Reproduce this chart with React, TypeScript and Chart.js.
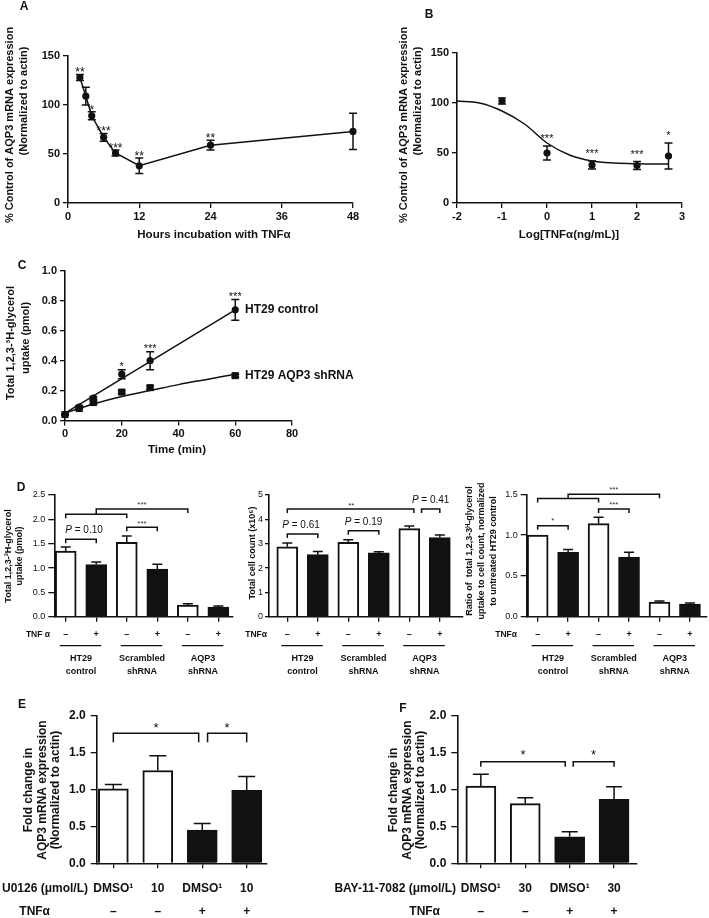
import React, { useEffect, useRef } from "react";
import { Chart, registerables } from "chart.js";
Chart.register(...registerables);

const W = 709;
const H = 918;
const FF = "'Liberation Sans', Arial, Helvetica, sans-serif";
const INK = "#111";
const YW = 34;
const XH = 24;

// ---------- Panel A ----------
const A_HOURS = [2, 3, 4, 6, 8, 12, 24, 48];
const A_VALUES = [128, 109, 89, 67, 51, 38, 59, 73];
const A_ERR = [3, 9, 4, 4, 3, 8, 5, 18.5];
const A_STARS = ["**", "", "*", "***", "***", "**", "**", ""];
const A_X_TICKS = [0, 12, 24, 36, 48];
const A_Y_TICKS = [0, 50, 100, 150];

// ---------- Panel B ----------
const B_LOGDOSE = [-1, 0, 1, 2, 2.7];
const B_VALUES = [102, 50, 38, 37.5, 47];
const B_ERR = [3, 7, 4, 4, 13];
const B_STARS = ["", "***", "***", "***", "*"];
const B_FIT_X = [-2, -1.5, -1, -0.5, 0, 0.5, 1, 1.5, 2, 2.7];
const B_FIT_Y = [102, 100, 92, 79, 60, 48, 42, 40, 39.3, 39];
const B_X_TICKS = [-2, -1, 0, 1, 2, 3];
const B_Y_TICKS = [0, 50, 100, 150];

// ---------- Panel C ----------
const C_TIME = [0, 5, 10, 20, 30, 60];
const C_CTRL = [0.04, 0.09, 0.15, 0.31, 0.4, 0.74];
const C_CTRL_ERR = [0.005, 0.01, 0.01, 0.03, 0.06, 0.07];
const C_SH = [0.04, 0.08, 0.12, 0.19, 0.22, 0.3];
const C_SH_ERR = [0, 0, 0.01, 0.01, 0.01, 0.01];
const C_STARS = ["", "", "", "*", "***", "***"];
const C_CTRL_FIT_X = [0, 60];
const C_CTRL_FIT_Y = [0.05, 0.74];
const C_SH_FIT_X = [0, 10, 20, 30, 40, 50, 60];
const C_SH_FIT_Y = [0.05, 0.11, 0.16, 0.2, 0.24, 0.275, 0.31];
const C_X_TICKS = [0, 20, 40, 60, 80];
const C_Y_TICKS = [0, 0.2, 0.4, 0.6, 0.8, 1.0];

// ---------- Panel D ----------
const D_TNF = ["–", "+", "–", "+", "–", "+"];
const D_GROUPS = [
  ["HT29", "control"],
  ["Scrambled", "shRNA"],
  ["AQP3", "shRNA"],
];
const D1_VALUES = [1.35, 1.07, 1.53, 0.98, 0.24, 0.2];
const D1_ERR = [0.08, 0.055, 0.13, 0.1, 0.025, 0.02];
const D1_Y_TICKS = [0, 0.5, 1.0, 1.5, 2.0, 2.5];
const D2_VALUES = [2.87, 2.55, 3.06, 2.62, 3.62, 3.25];
const D2_ERR = [0.16, 0.13, 0.1, 0.05, 0.11, 0.11];
const D2_Y_TICKS = [0, 1, 2, 3, 4, 5];
const D3_VALUES = [1.0, 0.79, 1.14, 0.73, 0.18, 0.155];
const D3_ERR = [0, 0.035, 0.08, 0.06, 0.012, 0.012];
const D3_Y_TICKS = [0, 0.5, 1.0, 1.5];

// ---------- Panels E / F ----------
const E_LABELS = ["DMSO¹", "10", "DMSO¹", "10"];
const E_TNF = ["–", "–", "+", "+"];
const E_VALUES = [1.01, 1.26, 0.45, 0.99];
const E_ERR = [0.06, 0.2, 0.09, 0.19];
const F_LABELS = ["DMSO¹", "30", "DMSO¹", "30"];
const F_TNF = ["–", "–", "+", "+"];
const F_VALUES = [1.05, 0.81, 0.36, 0.87];
const F_ERR = [0.16, 0.08, 0.07, 0.17];
const EF_Y_TICKS = [0, 0.5, 1.0, 1.5, 2.0];

// ---------- styles ----------
const D_FILLS = ["#ffffff", INK, "#ffffff", INK, "#ffffff", INK];
const EF_FILLS = ["#ffffff", "#ffffff", INK, INK];

const bold = (s: number) => ({ family: FF, size: s, weight: "bold" as const });
const norm = (s: number) => ({ family: FF, size: s, weight: "normal" as const });

function txt(ctx: CanvasRenderingContext2D, s: string, x: number, y: number, size: number, o: any = {}) {
  ctx.save();
  ctx.font = `${o.italic ? "italic " : ""}${o.bold === false ? "" : "bold "}${size}px ${FF}`;
  ctx.fillStyle = o.color || INK;
  ctx.textAlign = o.align || "center";
  ctx.textBaseline = o.baseline || "middle";
  if (o.rot) {
    ctx.translate(x, y);
    ctx.rotate(-Math.PI / 2);
    ctx.fillText(s, 0, 0);
  } else {
    ctx.fillText(s, x, y);
  }
  ctx.restore();
}

function star(ctx: CanvasRenderingContext2D, s: string, x: number, yc: number, size: number, color = INK) {
  ctx.save();
  ctx.font = `${size}px ${FF}`;
  ctx.fillStyle = color;
  ctx.textAlign = "center";
  ctx.textBaseline = "alphabetic";
  ctx.fillText(s, x, yc + size * 0.57);
  ctx.restore();
}

function pText(ctx: CanvasRenderingContext2D, rest: string, cx: number, y: number, size: number) {
  ctx.save();
  const fI = `italic ${size}px ${FF}`;
  const fN = `${size}px ${FF}`;
  ctx.font = fI;
  const w1 = ctx.measureText("P").width;
  ctx.font = fN;
  const w2 = ctx.measureText(rest).width;
  const x = cx - (w1 + w2) / 2;
  ctx.textBaseline = "middle";
  ctx.textAlign = "left";
  ctx.fillStyle = INK;
  ctx.font = fI;
  ctx.fillText("P", x, y);
  ctx.font = fN;
  ctx.fillText(rest, x + w1, y);
  ctx.restore();
}

function seg(ctx: CanvasRenderingContext2D, pts: number[][], lw = 1.5) {
  ctx.save();
  ctx.strokeStyle = INK;
  ctx.lineWidth = lw;
  ctx.beginPath();
  pts.forEach((p, i) => (i ? ctx.lineTo(p[0], p[1]) : ctx.moveTo(p[0], p[1])));
  ctx.stroke();
  ctx.restore();
}

function errBars(chart: any, dsi: number, vals: number[], errs: number[], cap: number, upOnly: boolean) {
  const meta = chart.getDatasetMeta(dsi);
  const ys = chart.scales.y;
  const ctx = chart.ctx;
  ctx.save();
  ctx.strokeStyle = INK;
  ctx.lineWidth = 1.5;
  meta.data.forEach((el: any, i: number) => {
    const e = errs[i];
    if (!e) return;
    const x = el.x;
    const top = ys.getPixelForValue(vals[i] + e);
    const bot = ys.getPixelForValue(upOnly ? vals[i] : vals[i] - e);
    ctx.beginPath();
    ctx.moveTo(x, top);
    ctx.lineTo(x, bot);
    ctx.moveTo(x - cap / 2, top);
    ctx.lineTo(x + cap / 2, top);
    if (!upOnly) {
      ctx.moveTo(x - cap / 2, bot);
      ctx.lineTo(x + cap / 2, bot);
    }
    ctx.stroke();
  });
  ctx.restore();
}

function starsAbove(chart: any, dsi: number, vals: number[], errs: number[], labels: string[], gap: number, size: number) {
  const meta = chart.getDatasetMeta(dsi);
  const ys = chart.scales.y;
  meta.data.forEach((el: any, i: number) => {
    if (!labels[i]) return;
    const top = ys.getPixelForValue(vals[i] + errs[i]);
    star(chart.ctx, labels[i], el.x, top - gap, size);
  });
}

function bracket(chart: any, x1: number, x2: number, yv: number, drop: number) {
  const xs = chart.scales.x;
  const ys = chart.scales.y;
  const X1 = xs.getPixelForValue(x1);
  const X2 = xs.getPixelForValue(x2);
  const Y = ys.getPixelForValue(yv);
  seg(chart.ctx, [
    [X1, Y + drop],
    [X1, Y],
    [X2, Y],
    [X2, Y + drop],
  ]);
}

function bigBracket(chart: any, a: number, b: number, c: number, yLow: number, yHigh: number, drop: number) {
  const xs = chart.scales.x;
  const ys = chart.scales.y;
  const A = xs.getPixelForValue(a);
  const B = xs.getPixelForValue(b);
  const C = xs.getPixelForValue(c);
  const M = (A + B) / 2;
  const YL = ys.getPixelForValue(yLow);
  const YH = ys.getPixelForValue(yHigh);
  seg(chart.ctx, [
    [A, YL + drop],
    [A, YL],
    [B, YL],
    [B, YL + drop],
  ]);
  seg(chart.ctx, [
    [M, YL],
    [M, YH],
    [C, YH],
    [C, YH + drop],
  ]);
}

function yScale(min: number, max: number, ticks: number[], fmt: (v: number) => string, font: any, tickLen: number, pad: number) {
  return {
    type: "linear",
    position: "left",
    min,
    max,
    afterBuildTicks: (s: any) => {
      s.ticks = ticks.map((v) => ({ value: v }));
    },
    afterFit: (s: any) => {
      s.width = YW;
    },
    ticks: { display: true, callback: (v: any) => fmt(Number(v)), font, color: INK, padding: pad, autoSkip: false },
    grid: { display: true, drawOnChartArea: false, drawTicks: true, tickLength: tickLen, color: INK, lineWidth: 1.3, offset: false },
    border: { display: true, color: INK, width: 1.6 },
  };
}

function xScale(min: number, max: number, ticks: number[], fmt: (v: number) => string, font: any, show: boolean, tickLen: number, pad: number) {
  return {
    type: "linear",
    position: "bottom",
    min,
    max,
    offset: false,
    afterBuildTicks: (s: any) => {
      s.ticks = ticks.map((v) => ({ value: v }));
    },
    afterFit: (s: any) => {
      s.height = XH;
    },
    ticks: { display: show, callback: (v: any) => fmt(Number(v)), font, color: INK, padding: pad, autoSkip: false, maxRotation: 0 },
    grid: { display: true, drawOnChartArea: false, drawTicks: true, tickLength: tickLen, color: INK, lineWidth: 1.3, offset: false },
    border: { display: true, color: INK, width: 1.6 },
  };
}

function base(type: string, data: any, area: any, scales: any, draw: (chart: any, ctx: CanvasRenderingContext2D) => void) {
  return {
    type,
    data,
    options: {
      responsive: false,
      maintainAspectRatio: false,
      animation: false,
      devicePixelRatio: 1,
      events: [],
      layout: { padding: { left: area.l - YW, top: area.t, right: W - area.r, bottom: H - area.b - XH } },
      plugins: { legend: { display: false }, tooltip: { enabled: false }, title: { display: false } },
      scales,
    },
    plugins: [{ id: "ann", afterDraw: (chart: any) => draw(chart, chart.ctx) }],
  };
}

const f0 = (v: number) => String(Math.round(v));
const f1 = (v: number) => v.toFixed(1);

function makeA() {
  const area = { l: 68, t: 56, r: 353, b: 203 };
  return base(
    "scatter",
    {
      datasets: [
        {
          data: A_HOURS.map((h, i) => ({ x: h, y: A_VALUES[i] })),
          showLine: true,
          borderColor: INK,
          borderWidth: 1.5,
          pointRadius: 3.6,
          pointBackgroundColor: INK,
          pointBorderColor: INK,
          pointBorderWidth: 0,
          tension: 0,
          clip: false,
        },
      ],
    },
    area,
    {
      x: xScale(0, 48, A_X_TICKS, f0, bold(11), true, 5, 2),
      y: yScale(0, 150, A_Y_TICKS, f0, bold(11), 5, 3),
    },
    (chart, ctx) => {
      errBars(chart, 0, A_VALUES, A_ERR, 8, false);
      starsAbove(chart, 0, A_VALUES, A_ERR, A_STARS, 5, 12);
      txt(ctx, "% Control of AQP3 mRNA expression", 10, 125, 11, { rot: true });
      txt(ctx, "(Normalized to actin)", 24, 101, 11, { rot: true });
      txt(ctx, "Hours incubation with TNFα", 214, 235, 11.5);
      txt(ctx, "A", 24, 7, 12);
    }
  );
}

function makeB() {
  const area = { l: 457, t: 53, r: 682, b: 203 };
  return base(
    "scatter",
    {
      datasets: [
        {
          data: B_FIT_X.map((x, i) => ({ x, y: B_FIT_Y[i] })),
          showLine: true,
          borderColor: INK,
          borderWidth: 1.5,
          pointRadius: 0,
          cubicInterpolationMode: "monotone",
          clip: false,
        },
        {
          data: B_LOGDOSE.map((x, i) => ({ x, y: B_VALUES[i] })),
          showLine: false,
          pointRadius: 3.6,
          pointBackgroundColor: INK,
          pointBorderColor: INK,
          pointBorderWidth: 0,
          clip: false,
        },
      ],
    },
    area,
    {
      x: xScale(-2, 3, B_X_TICKS, f0, bold(11), true, 5, 2),
      y: yScale(0, 150, B_Y_TICKS, f0, bold(11), 5, 3),
    },
    (chart, ctx) => {
      errBars(chart, 1, B_VALUES, B_ERR, 8, false);
      starsAbove(chart, 1, B_VALUES, B_ERR, B_STARS, 10, 11);
      txt(ctx, "% Control of AQP3 mRNA expression", 404, 125, 11, { rot: true });
      txt(ctx, "(Normalized to actin)", 418, 101, 11, { rot: true });
      txt(ctx, "Log[TNFα(ng/mL)]", 569, 235, 11.5);
      txt(ctx, "B", 429, 15, 12);
    }
  );
}

function makeC() {
  const area = { l: 65, t: 271, r: 292, b: 420.5 };
  return base(
    "scatter",
    {
      datasets: [
        {
          data: C_CTRL_FIT_X.map((x, i) => ({ x, y: C_CTRL_FIT_Y[i] })),
          showLine: true,
          borderColor: INK,
          borderWidth: 1.5,
          pointRadius: 0,
          clip: false,
        },
        {
          data: C_SH_FIT_X.map((x, i) => ({ x, y: C_SH_FIT_Y[i] })),
          showLine: true,
          borderColor: INK,
          borderWidth: 1.5,
          pointRadius: 0,
          cubicInterpolationMode: "monotone",
          clip: false,
        },
        {
          data: C_TIME.map((x, i) => ({ x, y: C_CTRL[i] })),
          showLine: false,
          pointRadius: 3.6,
          pointStyle: "circle",
          pointBackgroundColor: INK,
          pointBorderColor: INK,
          pointBorderWidth: 0,
          clip: false,
        },
        {
          data: C_TIME.map((x, i) => ({ x, y: C_SH[i] })),
          showLine: false,
          pointRadius: 5,
          pointStyle: "rect",
          pointBackgroundColor: INK,
          pointBorderColor: INK,
          pointBorderWidth: 0,
          clip: false,
        },
      ],
    },
    area,
    {
      x: xScale(0, 80, C_X_TICKS, f0, bold(11), true, 5, 2),
      y: yScale(0, 1, C_Y_TICKS, f1, bold(11), 5, 3),
    },
    (chart, ctx) => {
      errBars(chart, 2, C_CTRL, C_CTRL_ERR, 8, false);
      errBars(chart, 3, C_SH, C_SH_ERR, 8, false);
      starsAbove(chart, 2, C_CTRL, C_CTRL_ERR, C_STARS, 6, 11);
      txt(ctx, "Total 1,2,3-³H-glycerol", 11, 343, 11, { rot: true });
      txt(ctx, "uptake (pmol)", 26, 338, 11, { rot: true });
      txt(ctx, "Time (min)", 177, 450, 11.5);
      txt(ctx, "C", 22, 266, 12);
      const ys = chart.scales.y;
      txt(ctx, "HT29 control", 245, ys.getPixelForValue(0.74), 12, { align: "left" });
      txt(ctx, "HT29 AQP3 shRNA", 245, ys.getPixelForValue(0.3), 12, { align: "left" });
    }
  );
}

function dGroups(chart: any, ctx: CanvasRenderingContext2D, tnfLabel: string, tnfRight: number) {
  const xs = chart.scales.x;
  const b = chart.chartArea.bottom;
  txt(ctx, tnfLabel, tnfRight, b + 18, 8.5, { align: "right" });
  D_TNF.forEach((s, i) => txt(ctx, s, xs.getPixelForValue(i + 1), b + 18, 9));
  D_GROUPS.forEach((g, gi) => {
    const x1 = xs.getPixelForValue(2 * gi + 1);
    const x2 = xs.getPixelForValue(2 * gi + 2);
    seg(ctx, [
      [x1 - 6, b + 29],
      [x2 + 5, b + 29],
    ], 1.3);
    const cx = (x1 + x2) / 2;
    txt(ctx, g[0], cx, b + 42, 9);
    txt(ctx, g[1], cx, b + 55, 9);
  });
}

function barDS(vals: number[], fills: string[], thick: number) {
  return {
    data: vals.map((v, i) => ({ x: i + 1, y: v })),
    backgroundColor: fills,
    borderColor: INK,
    borderWidth: 2,
    barThickness: thick,
    borderSkipped: "bottom",
    clip: false,
  };
}

function makeD1() {
  const area = { l: 54.3, t: 495, r: 233, b: 616.7 };
  const ys = yScale(0, 2.5, D1_Y_TICKS, f1, norm(9), 6, 3);
  return base(
    "bar",
    { datasets: [barDS(D1_VALUES, D_FILLS, 21)] },
    area,
    { x: xScale(0.626, 6.48, [1, 2, 3, 4, 5, 6], f0, norm(9), false, 5, 2), y: ys },
    (chart, ctx) => {
      errBars(chart, 0, D1_VALUES, D1_ERR, 10, true);
      const y = chart.scales.y;
      const x = chart.scales.x;
      bracket(chart, 1, 2, 1.59, 4);
      pText(ctx, " = 0.10", x.getPixelForValue(1.6), y.getPixelForValue(1.78), 10);
      bracket(chart, 3, 4, 1.836, 4);
      star(ctx, "***", x.getPixelForValue(3.5), y.getPixelForValue(1.966), 8, "#333");
      bigBracket(chart, 1, 3, 5, 2.103, 2.212, 4);
      star(ctx, "***", x.getPixelForValue(3.5), y.getPixelForValue(2.35), 8, "#333");
      txt(ctx, "Total 1,2,3-³H-glycerol", 9, 556, 9, { rot: true });
      txt(ctx, "uptake (pmol)", 20, 556, 9, { rot: true });
      txt(ctx, "D", 21, 488, 12);
      dGroups(chart, ctx, "TNF α", 50);
    }
  );
}

function makeD2() {
  const area = { l: 269, t: 495, r: 463, b: 616.7 };
  return base(
    "bar",
    { datasets: [barDS(D2_VALUES, D_FILLS, 21)] },
    area,
    { x: xScale(0.4, 6.76, [1, 2, 3, 4, 5, 6], f0, norm(9), false, 5, 2), y: yScale(0, 5, D2_Y_TICKS, f0, norm(9), 4, 2) },
    (chart, ctx) => {
      errBars(chart, 0, D2_VALUES, D2_ERR, 10, true);
      const y = chart.scales.y;
      const x = chart.scales.x;
      bracket(chart, 1, 2, 3.4, 4);
      pText(ctx, " = 0.61", x.getPixelForValue(1.45), y.getPixelForValue(3.77), 10);
      bracket(chart, 3, 4, 3.53, 4);
      pText(ctx, " = 0.19", x.getPixelForValue(3.5), y.getPixelForValue(3.9), 10);
      bracket(chart, 1, 5.15, 4.42, 4);
      star(ctx, "**", x.getPixelForValue(3.1), y.getPixelForValue(4.66), 8, "#333");
      bracket(chart, 5.4, 6, 4.42, 4);
      pText(ctx, " = 0.41", x.getPixelForValue(5.7), y.getPixelForValue(4.77), 10);
      txt(ctx, "Total cell count (x10⁶)", 253, 553, 9, { rot: true });
      dGroups(chart, ctx, "TNFα", 267);
    }
  );
}

function makeD3() {
  const area = { l: 526.7, t: 494.3, r: 706.7, b: 616.7 };
  return base(
    "bar",
    { datasets: [barDS(D3_VALUES, D_FILLS, 21)] },
    area,
    { x: xScale(0.64, 6.55, [1, 2, 3, 4, 5, 6], f0, norm(9), false, 5, 2), y: yScale(0, 1.5, D3_Y_TICKS, f1, norm(9), 6, 3) },
    (chart, ctx) => {
      errBars(chart, 0, D3_VALUES, D3_ERR, 10, true);
      const y = chart.scales.y;
      const x = chart.scales.x;
      bracket(chart, 1, 2, 1.116, 4);
      star(ctx, "*", x.getPixelForValue(1.5), y.getPixelForValue(1.2), 8, "#333");
      bracket(chart, 3, 4, 1.32, 4);
      star(ctx, "***", x.getPixelForValue(3.5), y.getPixelForValue(1.4), 8, "#333");
      bigBracket(chart, 1, 3, 5, 1.45, 1.5, 4);
      star(ctx, "***", x.getPixelForValue(3.5), y.getPixelForValue(1.585), 8, "#333");
      txt(ctx, "Ratio of  total 1,2,3-3ᴴ-glycerol", 470, 551, 9, { rot: true });
      txt(ctx, "uptake to cell count, normalized", 482, 551, 9, { rot: true });
      txt(ctx, "to untreated HT29 control", 494, 551, 9, { rot: true });
      dGroups(chart, ctx, "TNFα", 517);
    }
  );
}

function efRows(chart: any, ctx: CanvasRenderingContext2D, head: string, headRight: number, labels: string[], tnf: string[], tnfRight: number) {
  const xs = chart.scales.x;
  const b = chart.chartArea.bottom;
  txt(ctx, head, headRight, b + 25, 12, { align: "right" });
  labels.forEach((s, i) => txt(ctx, s, xs.getPixelForValue(i + 1), b + 25, 12));
  txt(ctx, "TNFα", tnfRight, b + 48, 12, { align: "right" });
  tnf.forEach((s, i) => txt(ctx, s, xs.getPixelForValue(i + 1), b + 48, 12));
}

function makeE() {
  const area = { l: 96.7, t: 716, r: 266.7, b: 863.3 };
  return base(
    "bar",
    { datasets: [barDS(E_VALUES, EF_FILLS, 30)] },
    area,
    { x: xScale(0.626, 4.45, [1, 2, 3, 4], f0, norm(9), false, 5, 2), y: yScale(0, 2, EF_Y_TICKS, f1, bold(12), 6, 5) },
    (chart, ctx) => {
      errBars(chart, 0, E_VALUES, E_ERR, 17, true);
      const y = chart.scales.y;
      const x = chart.scales.x;
      bracket(chart, 1, 2.92, 1.765, 9);
      star(ctx, "*", x.getPixelForValue(1.96), y.getPixelForValue(1.877), 13);
      bracket(chart, 3.12, 4, 1.765, 9);
      star(ctx, "*", x.getPixelForValue(3.56), y.getPixelForValue(1.877), 13);
      txt(ctx, "Fold change in", 29, 790, 12, { rot: true });
      txt(ctx, "AQP3 mRNA expression", 42.5, 790, 12, { rot: true });
      txt(ctx, "(Normalized to actin)", 56, 790, 12, { rot: true });
      txt(ctx, "E", 22, 705, 12);
      efRows(chart, ctx, "U0126 (μmol/L)", 88, E_LABELS, E_TNF, 50);
    }
  );
}

function makeF() {
  const area = { l: 457.3, t: 716, r: 636.7, b: 863.3 };
  return base(
    "bar",
    { datasets: [barDS(F_VALUES, EF_FILLS, 30)] },
    area,
    { x: xScale(0.47, 4.51, [1, 2, 3, 4], f0, norm(9), false, 5, 2), y: yScale(0, 2, EF_Y_TICKS, f1, bold(12), 6, 5) },
    (chart, ctx) => {
      errBars(chart, 0, F_VALUES, F_ERR, 16, true);
      const y = chart.scales.y;
      const x = chart.scales.x;
      bracket(chart, 1, 2.9, 1.38, 5);
      star(ctx, "*", x.getPixelForValue(1.95), y.getPixelForValue(1.516), 13);
      bracket(chart, 3.08, 4, 1.38, 5);
      star(ctx, "*", x.getPixelForValue(3.54), y.getPixelForValue(1.516), 13);
      txt(ctx, "Fold change in", 394, 790, 12, { rot: true });
      txt(ctx, "AQP3 mRNA expression", 407.5, 790, 12, { rot: true });
      txt(ctx, "(Normalized to actin)", 421, 790, 12, { rot: true });
      txt(ctx, "F", 403, 709, 12);
      efRows(chart, ctx, "BAY-11-7082 (μmol/L)", 456, F_LABELS, F_TNF, 440);
    }
  );
}

function ChartLayer({ make }: { make: () => any }) {
  const ref = useRef<HTMLCanvasElement>(null);
  useEffect(() => {
    const c = new Chart(ref.current as HTMLCanvasElement, make() as any);
    return () => c.destroy();
  }, [make]);
  return (
    <canvas
      ref={ref}
      width={W}
      height={H}
      style={{ position: "absolute", left: 0, top: 0, width: W, height: H }}
    />
  );
}

const MAKERS = [makeA, makeB, makeC, makeD1, makeD2, makeD3, makeE, makeF];

export default function App() {
  return (
    <div style={{ position: "fixed", left: 0, top: 0, width: W, height: H, background: "#fff", overflow: "hidden" }}>
      {MAKERS.map((m, i) => (
        <ChartLayer key={i} make={m} />
      ))}
    </div>
  );
}
